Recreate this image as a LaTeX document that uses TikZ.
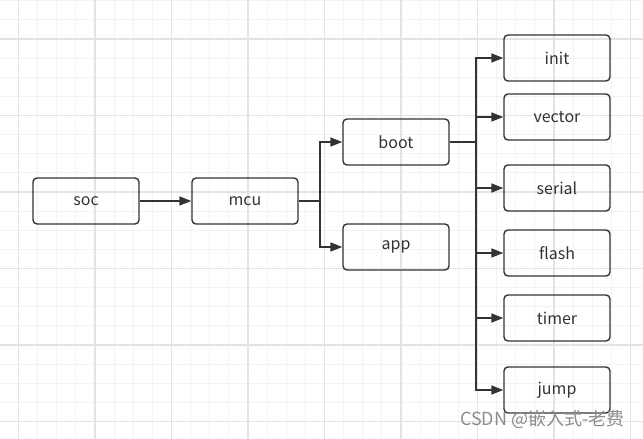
\documentclass[tikz,border=0pt]{standalone}
\usepackage{fontspec}
\setmainfont{Noto Sans CJK SC}
\usetikzlibrary{arrows.meta}
\definecolor{ink}{HTML}{333333}
\definecolor{gridminor}{HTML}{F3F3F3}
\definecolor{gridmajor}{HTML}{E3E3E3}
\tikzset{
  box/.style={draw=ink, line width=1.4pt, rounded corners=4pt, minimum width=106pt,
    minimum height=46pt, inner sep=0pt, text=ink, font=\fontsize{16}{19}\selectfont},
  link/.style={draw=ink, line width=1.6pt, -{Triangle[length=12pt,width=9pt]}},
  trunk/.style={draw=ink, line width=1.6pt},
}
\begin{document}
\begin{tikzpicture}[x=1pt,y=-1pt]
    \useasboundingbox (0,0) rectangle (643,439);

    % Background grid
    \foreach \i in {0,...,34}
        \draw[gridminor, line width=1pt] ({-0.625+19.125*\i},0) -- ({-0.625+19.125*\i},439);
    \foreach \i in {0,...,23}
        \draw[gridminor, line width=1pt] (0,{0.75+19.125*\i}) -- (643,{0.75+19.125*\i});
    \foreach \i in {0,...,8}
        \draw[gridmajor, line width=1.2pt] ({18.5+76.5*\i},0) -- ({18.5+76.5*\i},439);
    \foreach \i in {0,...,5}
        \draw[gridmajor, line width=1.2pt] (0,{39+76.5*\i}) -- (643,{39+76.5*\i});

    % Boxes
    \node[box] (soc) at (86,201) {soc};
    \node[box] (mcu) at (245,201) {mcu};
    \node[box] (boot) at (396,142) {boot};
    \node[box] (app) at (396,247) {app};
    \foreach \leaf/\y in {init/58, vector/117, serial/188, flash/253, timer/318, jump/390}
        \node[box] (\leaf) at (557,\y) {\leaf};

    % Fork points
    \coordinate (mcufork) at (320,201);
    \coordinate (bootfork) at (476,142);

    % Connectors
    \draw[link] (soc) -- (mcu);
    \draw[trunk] (mcu.east) -- (mcufork);
    \draw[link] (mcufork) |- (boot.west);
    \draw[link] (mcufork) |- (app.west);
    \draw[trunk, line width=2.6pt] (boot.east) -- (bootfork);
    \foreach \leaf in {init, vector, serial, flash, timer, jump}
        \draw[link] (bootfork) |- (\leaf.west);

    % Watermark
    \node[anchor=base east, text=black!45, font=\fontsize{18}{20}\selectfont] (mark) at (628,425) {CSDN @嵌入式-老费};
\end{tikzpicture}
\end{document}
